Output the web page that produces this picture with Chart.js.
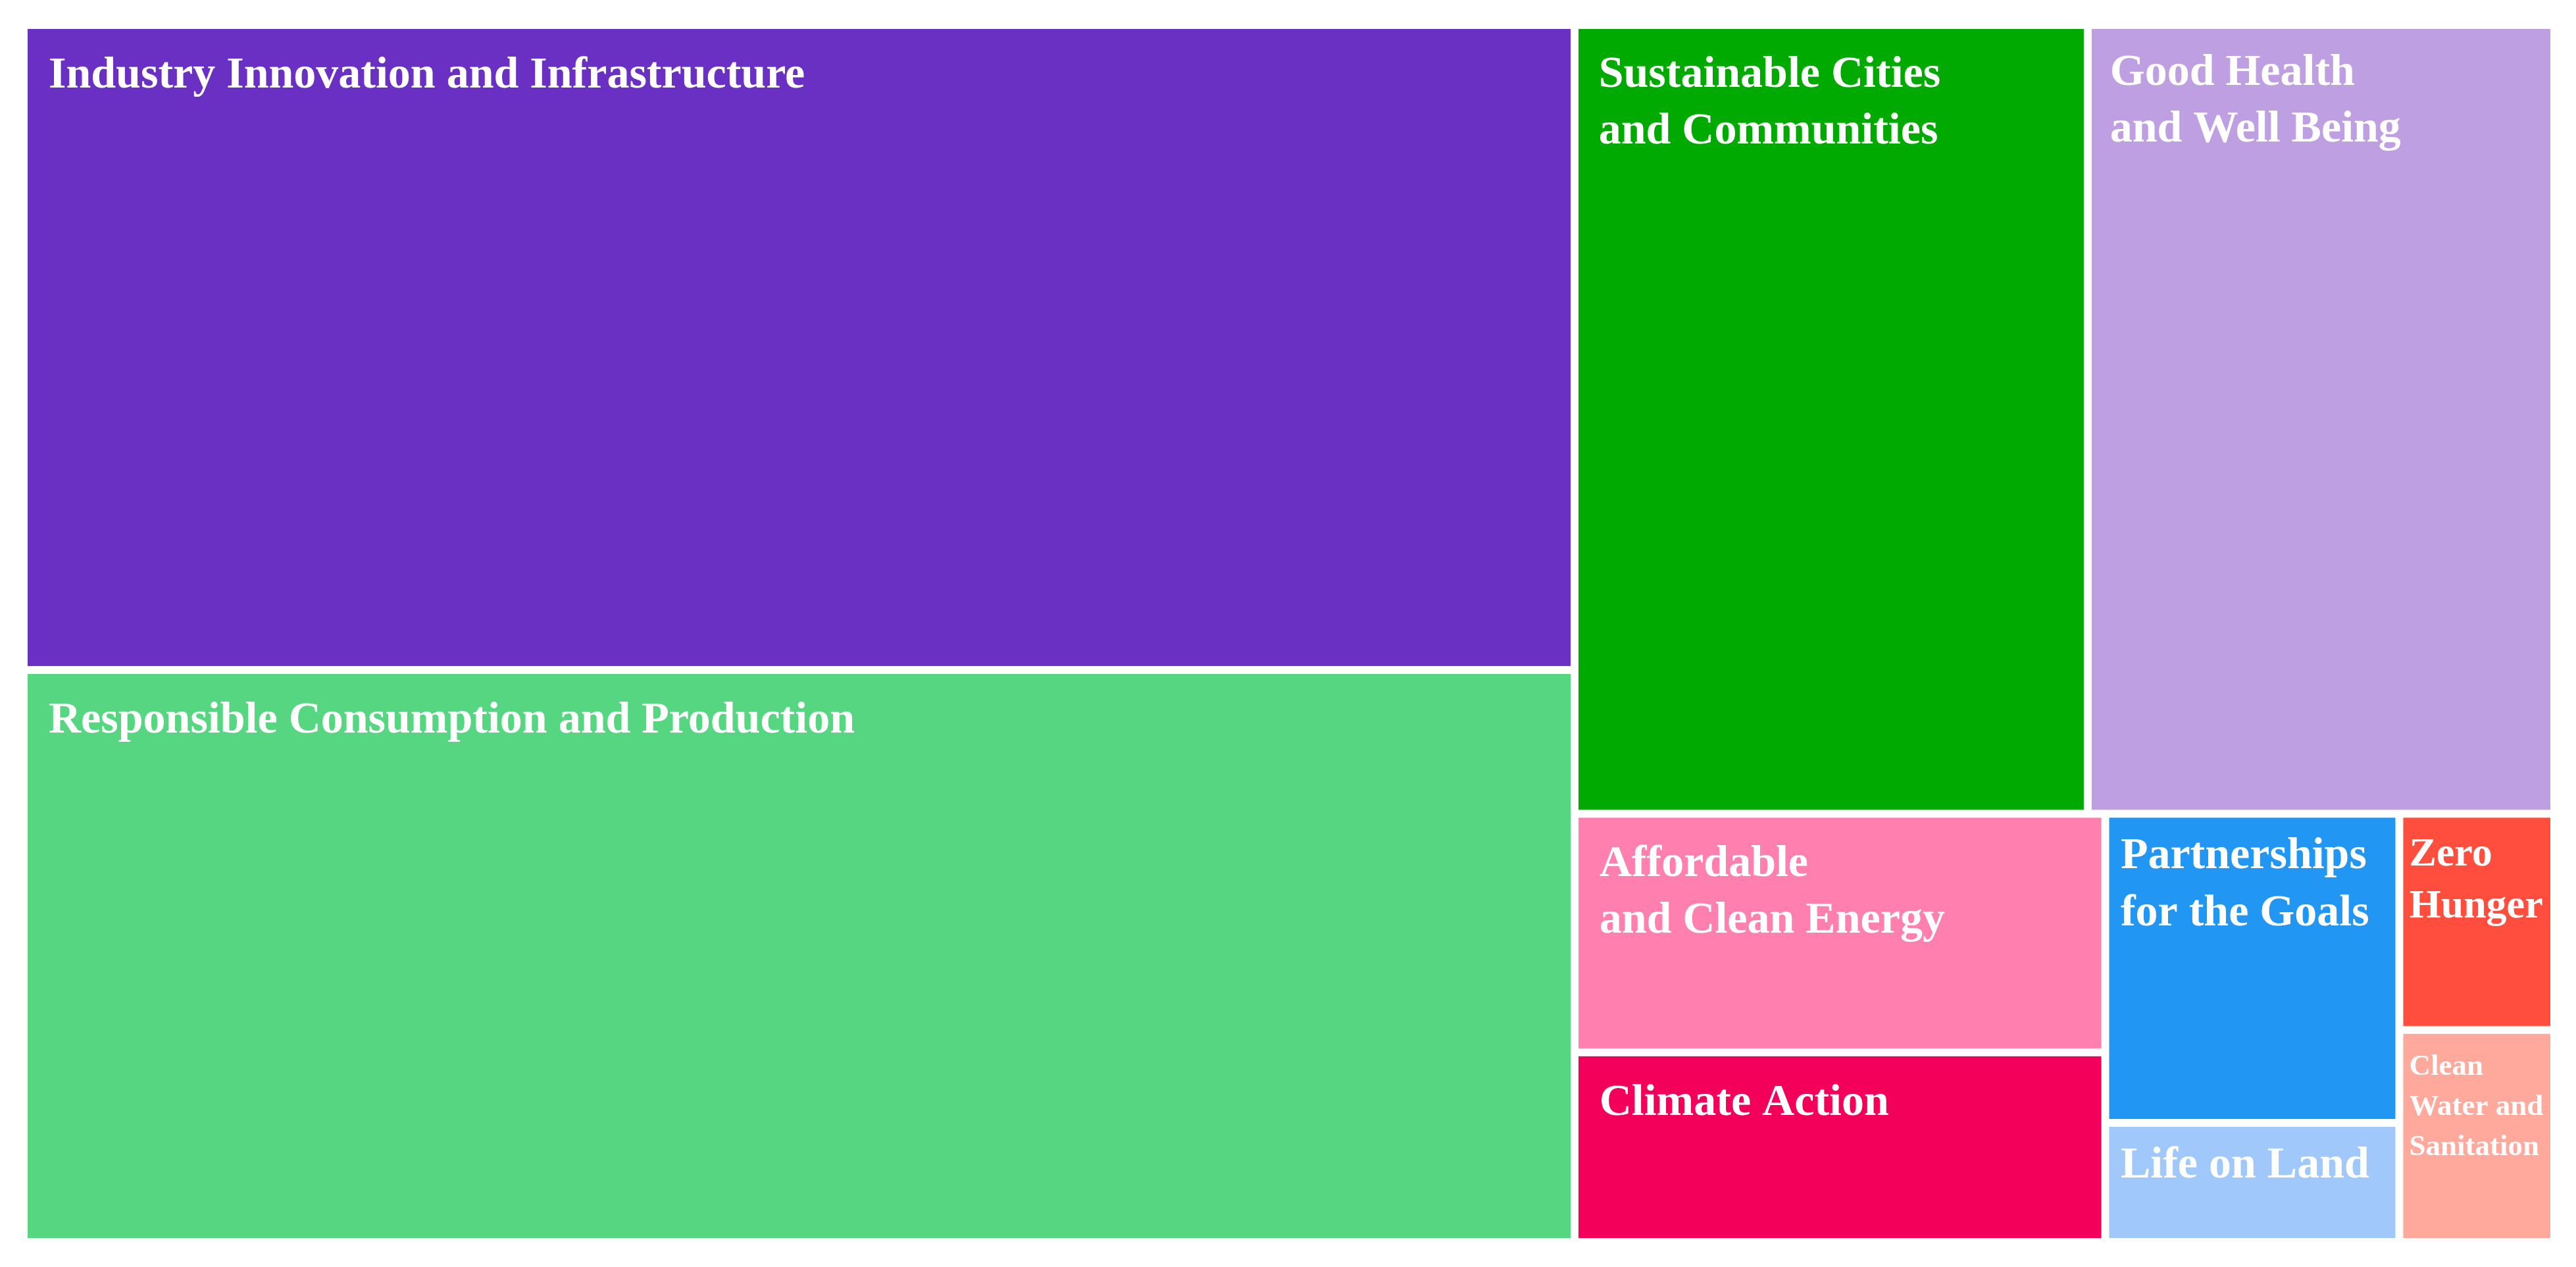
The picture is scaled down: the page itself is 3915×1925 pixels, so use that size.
<!doctype html>
<html lang="en">
    <head>
        <meta charset="UTF-8" />
        <meta name="viewport" content="width=device-width, initial-scale=1.0" />
        <title>SDG treemap</title>
        <style>
            html, body { margin: 0; padding: 0; background: #ffffff; }
            .chartBox { width: 3915px; height: 1925px; }
        </style>
    </head>
    <body>
        <div class="chartBox">
            <canvas id="myChart"></canvas>
        </div>

        <script src="https://cdn.jsdelivr.net/npm/chart.js"></script>
        <script>
            // setup
            const categories = [
                "Industry Innovation and Infrastructure",
                "Responsible Consumption and Production",
                "Sustainable Cities\nand Communities",
                "Good Health\nand Well Being",
                "Affordable\nand Clean Energy",
                "Climate Action",
                "Partnerships\nfor the Goals",
                "Life on Land",
                "Zero\nHunger",
                "Clean\nWater and\nSanitation",
            ];
            const values = [32.5, 28.8, 13.2, 11.9, 4.15, 3.23, 2.98, 1.11, 1.07, 1.03];
            const colors = [
                "#6a2fc3", "#56d680", "#00aa00", "#bea0e2", "#ff80ae",
                "#f20059", "#2196f3", "#a0c8fa", "#ff4e3d", "#ffa89c",
            ];

            // squarified layout (d3 style, golden ratio), in 0..1 units
            // k = width / height of the plot area in pixels
            function squarify(vals, k) {
                const phi = (1 + Math.sqrt(5)) / 2;
                const out = [];
                let x0 = 0, y0 = 0, x1 = 1, y1 = 1;
                let value = vals.reduce((a, b) => a + b, 0);
                let i0 = 0, i1 = 0;
                const n = vals.length;
                while (i0 < n) {
                    const dx = (x1 - x0) * k, dy = y1 - y0;
                    let sum = vals[i1++];
                    let minV = sum, maxV = sum;
                    const alpha = Math.max(dy / dx, dx / dy) / (value * phi);
                    let beta = sum * sum * alpha;
                    let minRatio = Math.max(maxV / beta, beta / minV);
                    for (; i1 < n; ++i1) {
                        const v = vals[i1];
                        sum += v;
                        if (v < minV) minV = v;
                        if (v > maxV) maxV = v;
                        beta = sum * sum * alpha;
                        const r = Math.max(maxV / beta, beta / minV);
                        if (r > minRatio) { sum -= v; break; }
                        minRatio = r;
                    }
                    const row = vals.slice(i0, i1);
                    if (dx < dy) {
                        const yb = y0 + (y1 - y0) * sum / value;
                        let xx = x0;
                        row.forEach((v) => {
                            const w = (x1 - x0) * v / sum;
                            out.push({ x0: xx, y0: y0, x1: xx + w, y1: yb });
                            xx += w;
                        });
                        y0 = yb;
                    } else {
                        const xb = x0 + (x1 - x0) * sum / value;
                        let yy = y0;
                        row.forEach((v) => {
                            const h = (y1 - y0) * v / sum;
                            out.push({ x0: x0, y0: yy, x1: xb, y1: yy + h });
                            yy += h;
                        });
                        x0 = xb;
                    }
                    value -= sum;
                    i0 = i1;
                }
                return out;
            }

            // plugin
            const treemapCells = {
                id: "treemapCells",
                beforeDatasetsDraw(chart, args, options) {
                    const {
                        ctx,
                        chartArea: { left, top, right, bottom },
                        scales: { x, y },
                    } = chart;
                    const k = (right - left) / (bottom - top);
                    const rects = squarify(values, k);
                    const g = options.gap / 2;
                    const eps = 1e-9;
                    ctx.save();
                    rects.forEach((r, i) => {
                        let px0 = x.getPixelForValue(r.x0);
                        let px1 = x.getPixelForValue(r.x1);
                        let py0 = y.getPixelForValue(r.y0);
                        let py1 = y.getPixelForValue(r.y1);
                        if (r.x0 > eps) px0 += g;
                        if (r.x1 < 1 - eps) px1 -= g;
                        if (r.y0 > eps) py0 += g;
                        if (r.y1 < 1 - eps) py1 -= g;
                        ctx.fillStyle = colors[i];
                        ctx.fillRect(px0, py0, px1 - px0, py1 - py0);

                        // label
                        const lines = categories[i].split("\n");
                        const w = px1 - px0;
                        const pad = Math.min(options.pad, w * 0.04);
                        let size = options.fontSize;
                        ctx.font = "bold " + size + "px " + options.fontFamily;
                        const widest = Math.max(...lines.map((l) => ctx.measureText(l).width));
                        if (widest > w - 2 * pad) {
                            size = Math.floor(size * (w - 2 * pad) / widest);
                            ctx.font = "bold " + size + "px " + options.fontFamily;
                        }
                        ctx.fillStyle = "#ffffff";
                        ctx.textAlign = "left";
                        ctx.textBaseline = "alphabetic";
                        const base = py0 + Math.max(pad, 20) + 12 + size * 0.66;
                        const lh = size < 50 ? 1.36 : 1.27;
                        lines.forEach((l, j) => {
                            ctx.fillText(l, px0 + pad, base + j * size * lh);
                        });
                    });
                    ctx.restore();
                },
            };

            // config
            const config = {
                type: "scatter",
                data: { datasets: [{ data: [] }] },
                options: {
                    responsive: true,
                    maintainAspectRatio: false,
                    animation: false,
                    layout: { padding: { left: 42, right: 39, top: 44, bottom: 44 } },
                    scales: {
                        x: { display: false, min: 0, max: 1 },
                        y: { display: false, min: 0, max: 1, reverse: true },
                    },
                    plugins: {
                        legend: { display: false },
                        tooltip: { enabled: false },
                        treemapCells: {
                            gap: 12,
                            pad: 32,
                            fontSize: 68,
                            fontFamily: '"Liberation Serif", serif',
                        },
                    },
                },
                plugins: [treemapCells],
            };

            // init
            const ctx = document.getElementById("myChart").getContext("2d");
            new Chart(ctx, config);
        </script>
    </body>
</html>
